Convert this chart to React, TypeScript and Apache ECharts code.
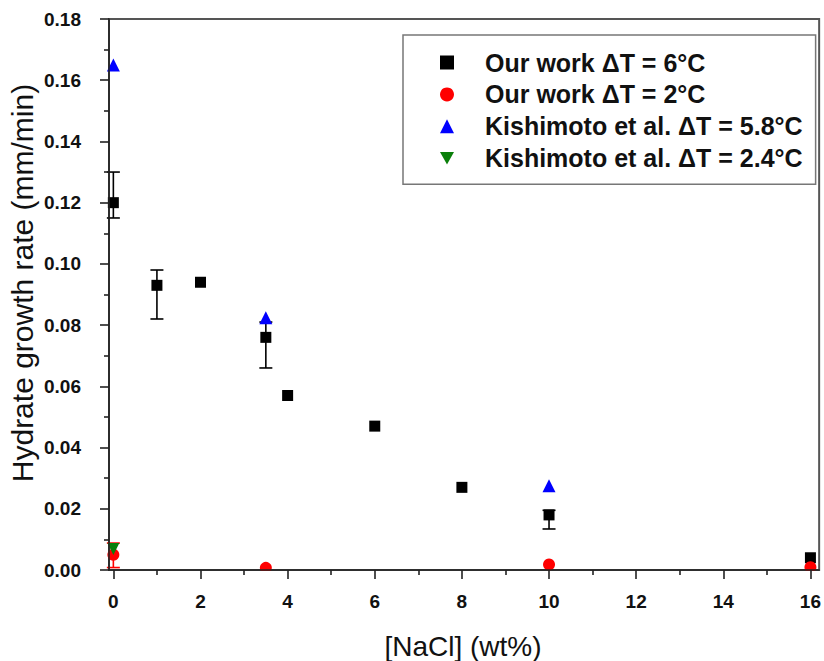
import React, { useEffect, useRef } from "react";
import * as echarts from "echarts";

// ---- data ----
const xOur6 = [0, 1, 2, 3.5, 4, 6, 8, 10, 16];
const yOur6 = [0.12, 0.093, 0.094, 0.076, 0.057, 0.047, 0.027, 0.018, 0.004];
const errLow6 = [0.115, 0.082, null, 0.066, null, null, null, 0.0134, null];
const errHigh6 = [0.13, 0.098, null, 0.081, null, null, null, 0.0195, null];

const xOur2 = [0, 3.5, 10, 16];
const yOur2 = [0.005, 0.0007, 0.0018, 0.0009];
const errLow2 = [0.0008, null, null, null];
const errHigh2 = [0.0088, null, null, null];

const xKis58 = [0, 3.5, 10];
const yKis58 = [0.165, 0.0824, 0.0275];

const xKis24 = [0];
const yKis24 = [0.0069];

const xMajorTicks = [0, 2, 4, 6, 8, 10, 12, 14, 16];
const xMinorTicks = [1, 3, 5, 7, 9, 11, 13, 15];

const seriesNames = [
  "Our work \u0394T = 6\u00B0C",
  "Our work \u0394T = 2\u00B0C",
  "Kishimoto et al. \u0394T = 5.8\u00B0C",
  "Kishimoto et al. \u0394T = 2.4\u00B0C",
];
const yTitle = "Hydrate growth rate (mm/min)";
const xTitle = "[NaCl] (wt%)";

const FONT = "'Liberation Sans', Arial, sans-serif";

function pairs(xs: number[], ys: number[]) {
  return xs.map((x, i) => [x, ys[i]]);
}
function errData(xs: number[], lo: (number | null)[], hi: (number | null)[]) {
  const out: number[][] = [];
  xs.forEach((x, i) => {
    if (lo[i] != null && hi[i] != null) out.push([x, lo[i] as number, hi[i] as number]);
  });
  return out;
}

function errorBarSeries(name: string, data: number[][], color: string) {
  return {
    type: "custom",
    name,
    data,
    z: 2,
    encode: { x: 0, y: [1, 2] },
    renderItem: (params: any, api: any) => {
      const x = api.value(0);
      const lo = api.coord([x, api.value(1)]);
      const hi = api.coord([x, api.value(2)]);
      const half = 6.5;
      const style = { stroke: color, lineWidth: 1.6 };
      return {
        type: "group",
        children: [
          { type: "line", shape: { x1: lo[0], y1: lo[1], x2: hi[0], y2: hi[1] }, style },
          { type: "line", shape: { x1: lo[0] - half, y1: lo[1], x2: lo[0] + half, y2: lo[1] }, style },
          { type: "line", shape: { x1: hi[0] - half, y1: hi[1], x2: hi[0] + half, y2: hi[1] }, style },
        ],
      };
    },
  };
}

export default function App() {
  const ref = useRef<HTMLDivElement>(null);
  useEffect(() => {
    if (!ref.current) return;
    const chart = echarts.init(ref.current, null, { renderer: "svg" });
    const downTri = "path://M0,0 L10,0 L5,9 Z";
    const option: any = {
      animation: false,
      backgroundColor: "#ffffff",
      textStyle: { fontFamily: FONT },
      grid: {
        left: 109,
        right: 4,
        top: 19,
        bottom: 91,
        show: true,
        borderColor: "#555555",
        borderWidth: 2,
        backgroundColor: "transparent",
      },
      xAxis: [
        {
          type: "value",
          min: -0.1,
          max: 16.2,
          z: 10,
          splitLine: { show: false },
          axisLine: { show: true, onZero: false, lineStyle: { color: "#222", width: 1.6 } },
          axisTick: { show: true, customValues: xMajorTicks, length: 9, lineStyle: { color: "#222", width: 1.6 } },
          axisLabel: {
            customValues: xMajorTicks,
            margin: 22,
            color: "#111",
            fontWeight: "bold",
            fontSize: 19,
            fontFamily: FONT,
          },
        },
        {
          type: "value",
          min: -0.1,
          max: 16.2,
          z: 10,
          position: "bottom",
          splitLine: { show: false },
          axisLine: { show: false },
          axisTick: { show: true, customValues: xMinorTicks, length: 5, lineStyle: { color: "#222", width: 1.6 } },
          axisLabel: { show: false },
        },
      ],
      yAxis: {
        type: "value",
        min: 0,
        max: 0.18,
        interval: 0.02,
        z: 10,
        splitLine: { show: false },
        axisLine: { show: true, onZero: false, lineStyle: { color: "#222", width: 1.6 } },
        axisTick: { show: true, length: 9, lineStyle: { color: "#222", width: 1.6 } },
        minorTick: { show: true, splitNumber: 2, length: 5, lineStyle: { color: "#222", width: 1.6 } },
        minorSplitLine: { show: false },
        axisLabel: {
          margin: 28,
          color: "#111",
          fontWeight: "bold",
          fontSize: 19,
          fontFamily: FONT,
          formatter: (v: number) => v.toFixed(2),
        },
      },
      legend: {
        orient: "vertical",
        left: 403,
        top: 35,
        data: seriesNames,
        itemWidth: 14,
        itemHeight: 14,
        itemGap: 6.9,
        padding: [15, 13, 13.5, 37],
        borderColor: "#777",
        borderWidth: 1.5,
        backgroundColor: "#fff",
        textStyle: {
          fontSize: 25,
          fontWeight: "bold",
          color: "#111",
          fontFamily: FONT,
          padding: [0, 0, 0, 26],
        },
      },
      graphic: [
        {
          type: "rect",
          z: 5,
          silent: true,
          shape: { x: 100, y: 571, width: 724, height: 20 },
          style: { fill: "#ffffff" },
        },
        {
          type: "text",
          x: 22,
          y: 283,
          rotation: Math.PI / 2,
          style: {
            text: yTitle,
            font: `30px ${FONT}`,
            fill: "#111",
            align: "center",
            verticalAlign: "middle",
          },
        },
        {
          type: "text",
          x: 463,
          y: 646,
          style: {
            text: xTitle,
            font: `28px ${FONT}`,
            fill: "#111",
            align: "center",
            verticalAlign: "middle",
          },
        },
      ],
      series: [
        errorBarSeries("err6", errData(xOur6, errLow6, errHigh6), "#000000"),
        {
          type: "scatter",
          name: seriesNames[0],
          data: pairs(xOur6, yOur6),
          symbol: "rect",
          symbolSize: 11,
          itemStyle: { color: "#000000", opacity: 1 },
          z: 3,
        },
        errorBarSeries("err2", errData(xOur2, errLow2, errHigh2), "#ff0000"),
        {
          type: "scatter",
          name: seriesNames[1],
          data: pairs(xOur2, yOur2),
          symbol: "circle",
          symbolSize: 12,
          itemStyle: { color: "#ff0000", opacity: 1 },
          z: 3,
        },
        {
          type: "scatter",
          name: seriesNames[2],
          data: pairs(xKis58, yKis58),
          symbol: "triangle",
          symbolSize: 13,
          itemStyle: { color: "#0000ff", opacity: 1 },
          z: 3,
        },
        {
          type: "scatter",
          name: seriesNames[3],
          data: pairs(xKis24, yKis24),
          symbol: downTri,
          symbolSize: 12,
          itemStyle: { color: "#0a7f0a", opacity: 1 },
          z: 3,
        },
      ],
    };
    chart.setOption(option);
    return () => chart.dispose();
  }, []);
  return <div ref={ref} style={{ width: 824, height: 661, position: "absolute", left: 0, top: 0 }} />;
}
